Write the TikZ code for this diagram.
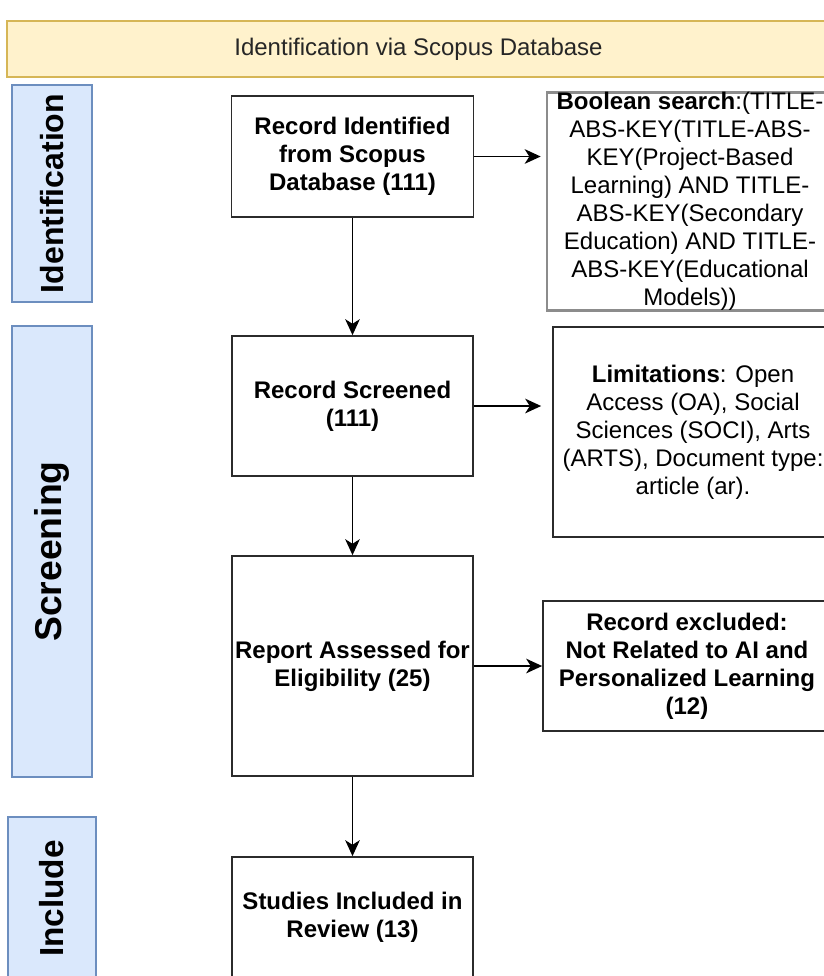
\documentclass[tikz,border=0pt]{standalone}
\usepackage{fontspec}
\setmainfont{Liberation Sans}
\usetikzlibrary{arrows.meta}
\definecolor{bannerfill}{HTML}{FFF2CC}
\definecolor{bannerline}{HTML}{D6B656}
\definecolor{phasefill}{HTML}{DAE8FC}
\definecolor{phaseline}{HTML}{6C8EBF}
\definecolor{boxline}{HTML}{2B2B2B}
\begin{document}
\begin{tikzpicture}[x=0.75pt,y=-0.75pt,
		stepbox/.style={draw=boxline,line width=1.3pt,fill=white,align=center,inner sep=0pt,font=\fontsize{18}{21}\selectfont\bfseries},
		notebox/.style={draw=boxline,line width=1.3pt,fill=white,align=center,inner sep=0pt,font=\fontsize{18}{21}\selectfont},
		phase/.style={draw=phaseline,fill=phasefill,line width=1pt,inner sep=0pt,rotate=90,font=\bfseries},
		flow/.style={draw=black,line width=1.1pt,-{Stealth[length=12pt,width=11pt,inset=3.5pt]}}]
	\useasboundingbox (0,0) rectangle (824,976);
	\clip (0,0) rectangle (824,976);

		% banner
		\node[draw=bannerline,fill=bannerfill,line width=1pt,minimum width=617.25pt,minimum height=42pt,font=\fontsize{18}{21}\selectfont,text=black!85] (banner) at(418.5, 49){Identification via Scopus Database};

		% phases
		\node[phase,minimum width=162.75pt,minimum height=60pt,font=\fontsize{24}{28}\selectfont\bfseries] (idphase) at(52, 193.5){Identification};
		\node[phase,minimum width=338.25pt,minimum height=60pt,font=\fontsize{28}{32}\selectfont\bfseries] (scrphase) at(52, 551.5){Screening};
		\node[phase,minimum width=122.25pt,minimum height=66pt,font=\fontsize{25}{30}\selectfont\bfseries] (incphase) at(52, 898.5){Include};

		% main column
		\node[stepbox,minimum width=181.5pt,minimum height=90.75pt] (ident) at(352.5, 156.5){Record Identified\\from Scopus\\Database (111)};
		\node[stepbox,minimum width=180.75pt,minimum height=105pt] (screen) at(352.5, 406){Record Screened\\(111)};
		\node[stepbox,minimum width=180.75pt,minimum height=165pt] (assess) at(352.5, 666){Report Assessed for\\Eligibility (25)};
		\node[stepbox,minimum width=180.75pt,minimum height=90pt] (incl) at(352.5, 917){Studies Included in\\Review (13)};

		% side notes
		\node[notebox,draw=black!45,line width=2pt,minimum width=214.5pt,minimum height=159.75pt] (search) at(690, 201.5){\textbf{Boolean search}:(TITLE-\\ABS-KEY(TITLE-ABS-\\KEY(Project-Based\\Learning) AND TITLE-\\ABS-KEY(Secondary\\Education) AND TITLE-\\ABS-KEY(Educational\\Models))};
		\node[notebox,minimum width=210pt,minimum height=157.5pt] (limit) at(693, 432){\textbf{Limitations}: Open\\Access (OA), Social\\Sciences (SOCI), Arts\\(ARTS), Document type:\\article (ar).};
		\node[stepbox,minimum width=216pt,minimum height=97.5pt] (excl) at(687, 666){Record excluded:\\Not Related to AI and\\Personalized Learning\\(12)};

		% connectors
		\draw[flow] (ident.south) -- (screen.north);
		\draw[flow] (screen.south) -- (assess.north);
		\draw[flow] (assess.south) -- (incl.north);

		\draw[flow,shorten >=3.75pt] (ident.east) -- (ident.east -| search.west);
		\draw[flow,shorten >=8.25pt] (screen.east) -- (screen.east -| limit.west);
		\draw[flow] (assess.east) -- (excl.west);
	\end{tikzpicture}
\end{document}
